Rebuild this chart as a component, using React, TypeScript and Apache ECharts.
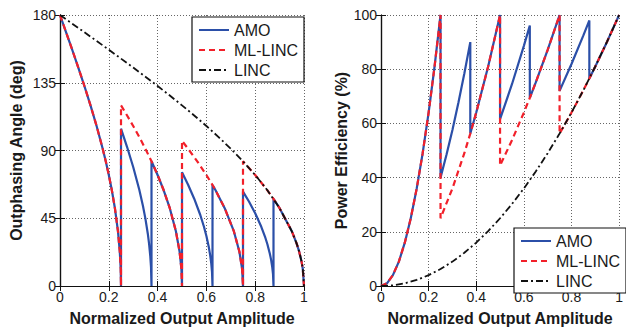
import React, { useEffect, useRef } from "react";
import * as echarts from "echarts";

const seriesNames = ["AMO", "ML-LINC", "LINC"];
const xTicks = [0, 0.2, 0.4, 0.6, 0.8, 1];
const angleTicks = [0, 45, 90, 135, 180];
const effTicks = [0, 20, 40, 60, 80, 100];

// Outphasing angle (deg)
const amoAngle = [
  [0, 180], [0.025, 168.52], [0.05, 156.93], [0.075, 145.08], [0.1, 132.84], [0.125, 120], [0.15, 106.26],
  [0.175, 91.15], [0.1875, 82.82], [0.2, 73.74], [0.2125, 63.58], [0.225, 51.68], [0.2375, 36.39], [0.245, 22.96],
  [0.2488, 11.46], [0.25, 0],
  [0.25, 104.48], [0.275, 92.29], [0.3, 79.05], [0.325, 63.9], [0.34, 53.16], [0.35, 44.77], [0.36, 34.55],
  [0.365, 28.17], [0.37, 19.88], [0.373, 12.56], [0.375, 0],
  [0.375, 82.82], [0.4, 73.74], [0.425, 63.58], [0.45, 51.68], [0.475, 36.39], [0.49, 22.96], [0.4975, 11.46], [0.5, 0],
  [0.5, 75.52], [0.525, 67.25], [0.55, 57.99], [0.575, 47.16], [0.59, 39.35], [0.6, 33.21], [0.61, 25.69],
  [0.615, 20.95], [0.62, 14.8], [0.623, 9.36], [0.625, 0],
  [0.625, 67.11], [0.6375, 63.58], [0.675, 51.68], [0.7125, 36.39], [0.735, 22.96], [0.7463, 11.46], [0.75, 0],
  [0.75, 62.72], [0.775, 55.94], [0.8, 48.32], [0.825, 39.34], [0.84, 32.86], [0.85, 27.75], [0.86, 21.48],
  [0.865, 17.5], [0.87, 12.38], [0.873, 7.83], [0.875, 0],
  [0.875, 57.91], [0.9, 51.68], [0.95, 36.39], [0.97, 28.14], [0.98, 22.96], [0.99, 16.22], [0.995, 11.46], [1, 0],
];
const mlAngle = [
  [0, 180], [0.025, 168.52], [0.05, 156.93], [0.075, 145.08], [0.1, 132.84], [0.125, 120], [0.15, 106.26],
  [0.175, 91.15], [0.1875, 82.82], [0.2, 73.74], [0.2125, 63.58], [0.225, 51.68], [0.2375, 36.39], [0.245, 22.96],
  [0.2488, 11.46], [0.25, 0],
  [0.25, 120], [0.275, 113.27], [0.3, 106.26], [0.325, 98.92], [0.35, 91.15], [0.375, 82.82], [0.4, 73.74],
  [0.425, 63.58], [0.45, 51.68], [0.475, 36.39], [0.49, 22.96], [0.4975, 11.46], [0.5, 0],
  [0.5, 96.38], [0.525, 91.15], [0.5625, 82.82], [0.6, 73.74], [0.625, 67.11], [0.6375, 63.58], [0.675, 51.68],
  [0.7125, 36.39], [0.735, 22.96], [0.7463, 11.46], [0.75, 0],
  [0.75, 82.82], [0.8, 73.74], [0.85, 63.58], [0.875, 57.91], [0.9, 51.68], [0.95, 36.39], [0.97, 28.14],
  [0.98, 22.96], [0.99, 16.22], [0.995, 11.46], [1, 0],
];
const lincAngle = [
  [0, 180], [0.05, 174.27], [0.1, 168.52], [0.15, 162.75], [0.2, 156.93], [0.25, 151.04], [0.3, 145.08],
  [0.35, 139.03], [0.4, 132.84], [0.45, 126.51], [0.5, 120], [0.55, 113.27], [0.6, 106.26], [0.65, 98.92],
  [0.7, 91.15], [0.75, 82.82], [0.8, 73.74], [0.85, 63.58], [0.9, 51.68], [0.95, 36.39], [0.97, 28.14],
  [0.98, 22.96], [0.99, 16.22], [0.995, 11.46], [1, 0],
];

// Power efficiency (%)
const amoEff = [
  [0, 0], [0.025, 1], [0.05, 4], [0.075, 9], [0.1, 16], [0.125, 25], [0.15, 36], [0.175, 49], [0.2, 64],
  [0.225, 81], [0.25, 100],
  [0.25, 40], [0.275, 48.4], [0.3, 57.6], [0.325, 67.6], [0.35, 78.4], [0.375, 90],
  [0.375, 56.25], [0.4, 64], [0.45, 81], [0.5, 100],
  [0.5, 61.54], [0.55, 74.46], [0.6, 88.62], [0.625, 96.15],
  [0.625, 69.44], [0.65, 75.11], [0.7, 87.11], [0.75, 100],
  [0.75, 72], [0.8, 81.92], [0.85, 92.48], [0.875, 98],
  [0.875, 76.56], [0.9, 81], [0.95, 90.25], [1, 100],
];
const mlEff = [
  [0, 0], [0.025, 1], [0.05, 4], [0.075, 9], [0.1, 16], [0.125, 25], [0.15, 36], [0.175, 49], [0.2, 64],
  [0.225, 81], [0.25, 100],
  [0.25, 25], [0.3, 36], [0.35, 49], [0.375, 56.25], [0.4, 64], [0.45, 81], [0.5, 100],
  [0.5, 44.44], [0.55, 53.78], [0.6, 64], [0.625, 69.44], [0.65, 75.11], [0.7, 87.11], [0.75, 100],
  [0.75, 56.25], [0.8, 64], [0.85, 72.25], [0.875, 76.56], [0.9, 81], [0.95, 90.25], [1, 100],
];
const lincEff = [
  [0, 0], [0.05, 0.25], [0.1, 1], [0.15, 2.25], [0.2, 4], [0.25, 6.25], [0.3, 9], [0.35, 12.25], [0.4, 16],
  [0.45, 20.25], [0.5, 25], [0.55, 30.25], [0.6, 36], [0.65, 42.25], [0.7, 49], [0.75, 56.25], [0.8, 64],
  [0.85, 72.25], [0.9, 81], [0.95, 90.25], [1, 100],
];

const FONT = "'Liberation Sans', Arial, Helvetica, sans-serif";
const BLUE = "#2B4FA8";
const RED = "#F2202A";
const BLACK = "#111111";

export default function App() {
  const ref = useRef<HTMLDivElement>(null);
  useEffect(() => {
    if (!ref.current) return;
    const chart = echarts.init(ref.current, undefined, { renderer: "svg" });

    const styles = [
      { color: BLUE, width: 2.2, type: "solid" as any },
      { color: RED, width: 2.2, type: [6, 4] as any },
      { color: BLACK, width: 1.8, type: [7, 3, 2, 3] as any },
    ];
    const mk = (name: string, data: number[][], idx: number, g: number) => ({
      name,
      type: "line",
      xAxisIndex: g * 2,
      yAxisIndex: g * 2,
      data,
      symbol: "none",
      showSymbol: false,
      lineStyle: styles[idx],
      itemStyle: { color: styles[idx].color },
      clip: true,
    });

    const xMain = (g: number) => ({
      gridIndex: g,
      type: "value",
      min: xTicks[0],
      max: xTicks[xTicks.length - 1],
      interval: xTicks[1] - xTicks[0],
      position: "bottom",
      axisLine: { show: true, lineStyle: { color: BLACK, width: 1.2 } },
      axisTick: { show: true, inside: true, length: 5, lineStyle: { color: BLACK } },
      axisLabel: { fontSize: 14, color: "#1a1a1a", fontFamily: FONT, margin: 4 },
      splitLine: { show: true, lineStyle: { color: "#666", width: 1, type: [1, 2] } },
      name: "Normalized Output Amplitude",
      nameLocation: "middle",
      nameGap: 24,
      nameTextStyle: { fontSize: 16, fontWeight: "bold", color: "#1a1a1a", fontFamily: FONT },
    });
    const xTop = (g: number) => ({
      gridIndex: g,
      type: "value",
      min: xTicks[0],
      max: xTicks[xTicks.length - 1],
      interval: xTicks[1] - xTicks[0],
      position: "top",
      axisLine: { show: true, lineStyle: { color: BLACK, width: 1.2 } },
      axisTick: { show: true, inside: true, length: 5, lineStyle: { color: BLACK } },
      axisLabel: { show: false },
      splitLine: { show: false },
    });
    const yMain = (g: number, ticks: number[], name: string, gap: number) => ({
      gridIndex: g,
      type: "value",
      min: ticks[0],
      max: ticks[ticks.length - 1],
      interval: ticks[1] - ticks[0],
      position: "left",
      axisLine: { show: true, lineStyle: { color: BLACK, width: 1.2 } },
      axisTick: { show: true, inside: true, length: 5, lineStyle: { color: BLACK } },
      axisLabel: { fontSize: 14, color: "#1a1a1a", fontFamily: FONT, margin: 4 },
      splitLine: { show: true, lineStyle: { color: "#666", width: 1, type: [1, 2] } },
      name,
      nameLocation: "middle",
      nameGap: gap,
      nameTextStyle: { fontSize: 16, fontWeight: "bold", color: "#1a1a1a", fontFamily: FONT },
    });
    const yRight = (g: number, ticks: number[]) => ({
      gridIndex: g,
      type: "value",
      min: ticks[0],
      max: ticks[ticks.length - 1],
      interval: ticks[1] - ticks[0],
      position: "right",
      axisLine: { show: true, lineStyle: { color: BLACK, width: 1.2 } },
      axisTick: { show: true, inside: true, length: 5, lineStyle: { color: BLACK } },
      axisLabel: { show: false },
      splitLine: { show: false },
    });

    const legendBase = {
      orient: "vertical",
      data: seriesNames,
      itemWidth: 30,
      itemHeight: 14,
      itemGap: 4,
      padding: [5, 6, 4, 6],
      borderColor: BLACK,
      borderWidth: 1.2,
      borderRadius: 0,
      backgroundColor: "#ffffff",
      selectedMode: false,
      itemStyle: { opacity: 0 },
      lineStyle: { inactiveWidth: 2 },
      textStyle: { fontSize: 16, color: "#1a1a1a", fontFamily: FONT, lineHeight: 16 },
    };

    chart.setOption({
      animation: false,
      backgroundColor: "#ffffff",
      grid: [
        { left: 60, top: 15, width: 244, height: 277, containLabel: false },
        { left: 381, top: 15, width: 244, height: 277, containLabel: false },
      ],
      xAxis: [xMain(0), xTop(0), xMain(1), xTop(1)],
      yAxis: [
        yMain(0, angleTicks, "Outphasing Angle (deg)", 36),
        yRight(0, angleTicks),
        yMain(1, effTicks, "Power Efficiency (%)", 32),
        yRight(1, effTicks),
      ],
      legend: [
        { ...legendBase, left: 192, top: 17 },
        { ...legendBase, left: 514, top: 228 },
      ],
      series: [
        mk("AMO", amoAngle, 0, 0),
        mk("ML-LINC", mlAngle, 1, 0),
        mk("LINC", lincAngle, 2, 0),
        mk("AMO", amoEff, 0, 1),
        mk("ML-LINC", mlEff, 1, 1),
        mk("LINC", lincEff, 2, 1),
      ],
    });
    return () => chart.dispose();
  }, []);
  return (
    <div
      ref={ref}
      style={{ position: "absolute", left: 0, top: 0, width: 626, height: 331 }}
    />
  );
}
